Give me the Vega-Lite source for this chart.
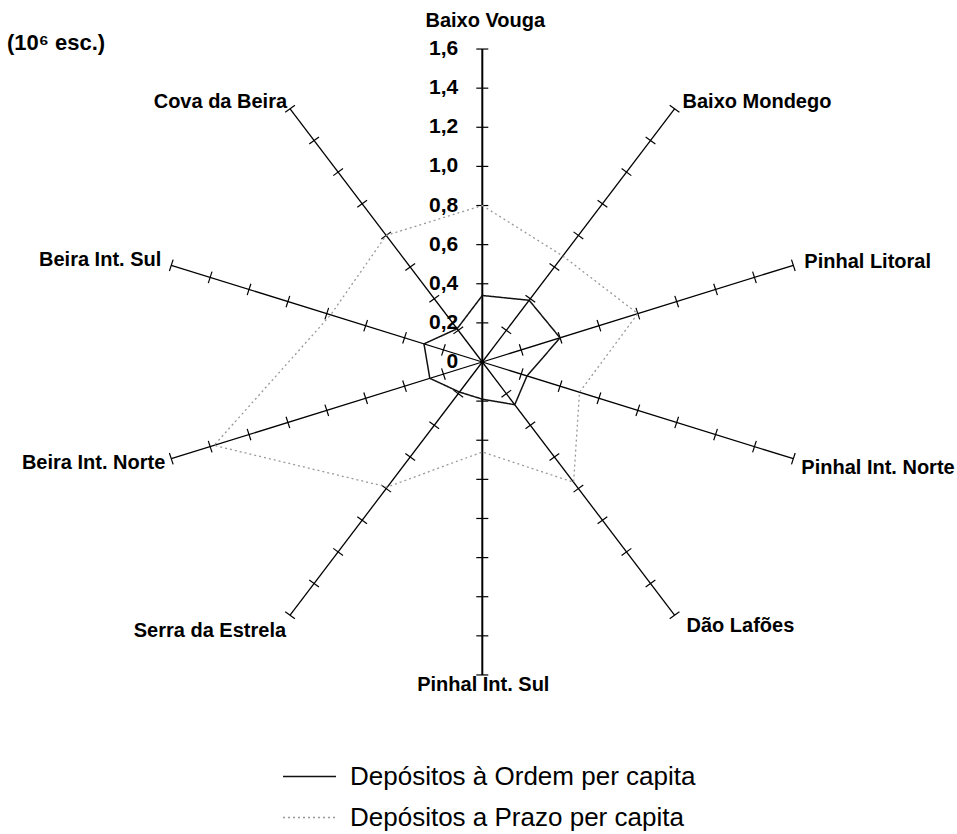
{
  "$schema": "https://vega.github.io/schema/vega-lite/v6.json",
  "width": 957,
  "height": 834,
  "padding": 0,
  "autosize": {"type": "none"},
  "background": "white",
  "title": {
    "text": "(10⁶ esc.)",
    "anchor": "start",
    "frame": "group",
    "orient": "top",
    "offset": 0,
    "dx": 7,
    "dy": 65,
    "baseline": "middle",
    "font": "Liberation Sans",
    "fontSize": 22,
    "fontWeight": "bold",
    "color": "black"
  },
  "config": {
    "view": {"stroke": null},
    "text": {"font": "Liberation Sans", "color": "black"}
  },
  "datasets": {
    "regioes": [
      {"regiao": "Baixo Vouga", "k": 0, "ordem": 0.34, "prazo": 0.8},
      {"regiao": "Baixo Mondego", "k": 1, "ordem": 0.39, "prazo": 0.67},
      {"regiao": "Pinhal Litoral", "k": 2, "ordem": 0.4, "prazo": 0.8},
      {"regiao": "Pinhal Int. Norte", "k": 3, "ordem": 0.23, "prazo": 0.5},
      {"regiao": "Dão Lafões", "k": 4, "ordem": 0.27, "prazo": 0.76},
      {"regiao": "Pinhal Int. Sul", "k": 5, "ordem": 0.19, "prazo": 0.46},
      {"regiao": "Serra da Estrela", "k": 6, "ordem": 0.19, "prazo": 0.79},
      {"regiao": "Beira Int. Norte", "k": 7, "ordem": 0.27, "prazo": 1.38},
      {"regiao": "Beira Int. Sul", "k": 8, "ordem": 0.3, "prazo": 0.78},
      {"regiao": "Cova da Beira", "k": 9, "ordem": 0.21, "prazo": 0.8}
    ],
    "escala": [
      {"v": 0, "rotulo": "0"}, {"v": 0.2, "rotulo": "0,2"}, {"v": 0.4, "rotulo": "0,4"},
      {"v": 0.6, "rotulo": "0,6"}, {"v": 0.8, "rotulo": "0,8"}, {"v": 1.0, "rotulo": "1,0"},
      {"v": 1.2, "rotulo": "1,2"}, {"v": 1.4, "rotulo": "1,4"}, {"v": 1.6, "rotulo": "1,6"}
    ],
    "marcas": [
      {"k":0,"v":0.2},{"k":0,"v":0.4},{"k":0,"v":0.6},{"k":0,"v":0.8},{"k":0,"v":1.0},{"k":0,"v":1.2},{"k":0,"v":1.4},{"k":0,"v":1.6},
      {"k":1,"v":0.2},{"k":1,"v":0.4},{"k":1,"v":0.6},{"k":1,"v":0.8},{"k":1,"v":1.0},{"k":1,"v":1.2},{"k":1,"v":1.4},{"k":1,"v":1.6},
      {"k":2,"v":0.2},{"k":2,"v":0.4},{"k":2,"v":0.6},{"k":2,"v":0.8},{"k":2,"v":1.0},{"k":2,"v":1.2},{"k":2,"v":1.4},{"k":2,"v":1.6},
      {"k":3,"v":0.2},{"k":3,"v":0.4},{"k":3,"v":0.6},{"k":3,"v":0.8},{"k":3,"v":1.0},{"k":3,"v":1.2},{"k":3,"v":1.4},{"k":3,"v":1.6},
      {"k":4,"v":0.2},{"k":4,"v":0.4},{"k":4,"v":0.6},{"k":4,"v":0.8},{"k":4,"v":1.0},{"k":4,"v":1.2},{"k":4,"v":1.4},{"k":4,"v":1.6},
      {"k":5,"v":0.2},{"k":5,"v":0.4},{"k":5,"v":0.6},{"k":5,"v":0.8},{"k":5,"v":1.0},{"k":5,"v":1.2},{"k":5,"v":1.4},{"k":5,"v":1.6},
      {"k":6,"v":0.2},{"k":6,"v":0.4},{"k":6,"v":0.6},{"k":6,"v":0.8},{"k":6,"v":1.0},{"k":6,"v":1.2},{"k":6,"v":1.4},{"k":6,"v":1.6},
      {"k":7,"v":0.2},{"k":7,"v":0.4},{"k":7,"v":0.6},{"k":7,"v":0.8},{"k":7,"v":1.0},{"k":7,"v":1.2},{"k":7,"v":1.4},{"k":7,"v":1.6},
      {"k":8,"v":0.2},{"k":8,"v":0.4},{"k":8,"v":0.6},{"k":8,"v":0.8},{"k":8,"v":1.0},{"k":8,"v":1.2},{"k":8,"v":1.4},{"k":8,"v":1.6},
      {"k":9,"v":0.2},{"k":9,"v":0.4},{"k":9,"v":0.6},{"k":9,"v":0.8},{"k":9,"v":1.0},{"k":9,"v":1.2},{"k":9,"v":1.4},{"k":9,"v":1.6}
    ]
  },
  "encoding": {
    "x": {"field": "x", "type": "quantitative", "scale": {"domain": [-2.3596, 2.3224], "nice": false, "zero": false}, "axis": null},
    "y": {"field": "y", "type": "quantitative", "scale": {"domain": [-2.4131, 1.8507], "nice": false, "zero": false}, "axis": null}
  },
  "layer": [
    {
      "data": {"name": "regioes"},
      "transform": [
        {"calculate": "datum.k * PI / 5", "as": "ang"},
        {"calculate": "0", "as": "x"},
        {"calculate": "0", "as": "y"},
        {"calculate": "1.6 * sin(datum.ang)", "as": "xe"},
        {"calculate": "1.6 * cos(datum.ang)", "as": "ye"}
      ],
      "mark": {"type": "rule", "color": "black"},
      "encoding": {
        "x2": {"field": "xe"},
        "y2": {"field": "ye"},
        "strokeWidth": {"condition": {"test": "datum.k % 5 == 0", "value": 2}, "value": 1.3}
      }
    },
    {
      "data": {"name": "marcas"},
      "transform": [
        {"calculate": "datum.k * PI / 5", "as": "ang"},
        {"calculate": "datum.v * sin(datum.ang)", "as": "x"},
        {"calculate": "datum.v * cos(datum.ang)", "as": "y"},
        {"calculate": "datum.k * 36", "as": "rot"}
      ],
      "mark": {"type": "point", "shape": "M-1,0L1,0", "filled": false, "stroke": "black", "strokeWidth": 1.2, "size": 144, "opacity": 1},
      "encoding": {
        "angle": {"field": "rot", "type": "quantitative", "scale": null}
      }
    },
    {
      "data": {"name": "regioes"},
      "transform": [
        {"fold": ["ordem", "prazo"], "as": ["serie", "valor"]},
        {"calculate": "datum.k * PI / 5", "as": "ang"},
        {"calculate": "datum.valor * sin(datum.ang)", "as": "x"},
        {"calculate": "datum.valor * cos(datum.ang)", "as": "y"}
      ],
      "mark": {"type": "line", "interpolate": "linear-closed"},
      "encoding": {
        "order": {"field": "k", "type": "quantitative"},
        "color": {
          "field": "serie", "type": "nominal",
          "scale": {"domain": ["ordem", "prazo"], "range": ["#111111", "#999999"]},
          "legend": {
            "title": null, "orient": "none", "legendX": 282, "legendY": 749,
            "symbolType": "stroke", "symbolSize": 2809, "symbolStrokeWidth": 1.5,
            "labelFontSize": 26, "labelFont": "Liberation Sans", "labelColor": "black",
            "labelOffset": 13, "rowPadding": -15, "labelLimit": 0,
            "labelExpr": "datum.value == 'ordem' ? 'Depósitos à Ordem per capita' : 'Depósitos a Prazo per capita'"
          }
        },
        "strokeDash": {
          "field": "serie", "type": "nominal",
          "scale": {"domain": ["ordem", "prazo"], "range": [[1, 0], [2, 3]]},
          "legend": {
            "title": null, "orient": "none", "legendX": 282, "legendY": 749,
            "symbolType": "stroke", "symbolSize": 2809, "symbolStrokeWidth": 1.5,
            "labelFontSize": 26, "labelFont": "Liberation Sans", "labelColor": "black",
            "labelOffset": 13, "rowPadding": -15, "labelLimit": 0,
            "labelExpr": "datum.value == 'ordem' ? 'Depósitos à Ordem per capita' : 'Depósitos a Prazo per capita'"
          }
        },
        "strokeWidth": {"condition": {"test": "datum.serie == 'ordem'", "value": 1.5}, "value": 1.3}
      }
    },
    {
      "data": {"name": "escala"},
      "transform": [
        {"calculate": "0", "as": "x"},
        {"calculate": "datum.v", "as": "y"}
      ],
      "mark": {"type": "text", "align": "right", "baseline": "middle", "dx": -24, "fontSize": 21, "fontWeight": "bold"},
      "encoding": {"text": {"field": "rotulo"}}
    },
    {
      "data": {"name": "regioes"},
      "transform": [
        {"calculate": "datum.k * PI / 5", "as": "ang"},
        {"calculate": "1.6 * sin(datum.ang)", "as": "x"},
        {"calculate": "1.6 * cos(datum.ang)", "as": "y"}
      ],
      "mark": {
        "type": "text", "baseline": "middle", "fontSize": 20, "fontWeight": "bold",
        "align": {"expr": "datum.k == 0 || datum.k == 5 ? 'center' : (datum.k < 5 ? 'left' : 'right')"},
        "dx": {"expr": "[3, 8, 11, 8, 12, 1, -4, -6, -10, -3][datum.k]"},
        "dy": {"expr": "[-28, -7, -3, 9, 11, 10, 16, 4, -5, -7][datum.k]"}
      },
      "encoding": {"text": {"field": "regiao"}}
    }
  ]
}
